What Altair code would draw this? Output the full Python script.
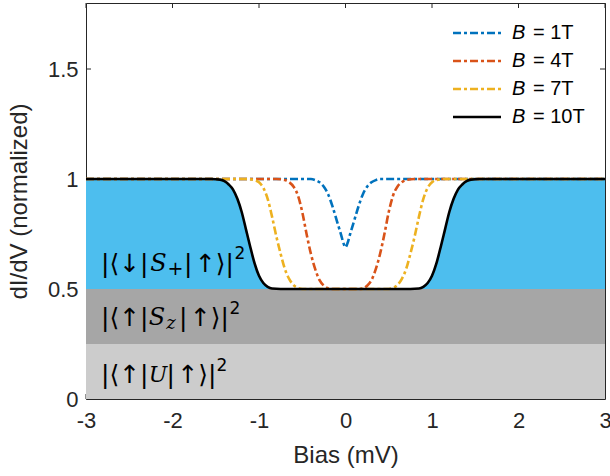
import altair as alt
import pandas as pd

# ---------------- data ----------------
series_names = ["B = 1T", "B = 4T", "B = 7T", "B = 10T"]
series_colors = ["#0072BD", "#D95319", "#EDB120", "#000000"]

bias_1T = [-3.0, -0.45, -0.4, -0.35, -0.3, -0.25, -0.2, -0.15, -0.1, -0.05, -0.025, 0.0,
           0.025, 0.05, 0.1, 0.15, 0.2, 0.25, 0.3, 0.35, 0.4, 0.45, 3.0]
didv_1T = [1.0, 1.0, 1.0, 0.995, 0.985, 0.965, 0.93, 0.875, 0.81, 0.745, 0.71, 0.69,
           0.71, 0.745, 0.81, 0.875, 0.93, 0.965, 0.985, 0.995, 1.0, 1.0, 1.0]

bias_4T = [-3.0, -0.8, -0.7, -0.65, -0.6, -0.55, -0.5, -0.45, -0.4, -0.35, -0.3, -0.25, -0.2, -0.15,
           0.15, 0.2, 0.25, 0.3, 0.35, 0.4, 0.45, 0.5, 0.55, 0.6, 0.65, 0.7, 0.8, 3.0]
didv_4T = [1.0, 1.0, 0.995, 0.985, 0.965, 0.925, 0.85, 0.75, 0.66, 0.59, 0.54, 0.515, 0.503, 0.5,
           0.5, 0.503, 0.515, 0.54, 0.59, 0.66, 0.75, 0.85, 0.925, 0.965, 0.985, 0.995, 1.0, 1.0]

bias_7T = [-3.0, -1.15, -1.05, -1.0, -0.95, -0.9, -0.85, -0.8, -0.75, -0.7, -0.65, -0.6, -0.55, -0.5,
           0.5, 0.55, 0.6, 0.65, 0.7, 0.75, 0.8, 0.85, 0.9, 0.95, 1.0, 1.05, 1.15, 3.0]
didv_7T = [1.0, 1.0, 0.995, 0.985, 0.96, 0.91, 0.83, 0.74, 0.66, 0.59, 0.545, 0.518, 0.505, 0.5,
           0.5, 0.505, 0.518, 0.545, 0.59, 0.66, 0.74, 0.83, 0.91, 0.96, 0.985, 0.995, 1.0, 1.0]

bias_10T = [-3.0, -1.55, -1.45, -1.4, -1.35, -1.3, -1.25, -1.2, -1.15, -1.1, -1.05, -1.0, -0.95, -0.9, -0.85, -0.75,
            0.75, 0.85, 0.9, 0.95, 1.0, 1.05, 1.1, 1.15, 1.2, 1.25, 1.3, 1.35, 1.4, 1.45, 1.55, 3.0]
didv_10T = [1.0, 1.0, 0.997, 0.99, 0.975, 0.952, 0.91, 0.85, 0.77, 0.69, 0.615, 0.56, 0.527, 0.51, 0.502, 0.5,
            0.5, 0.502, 0.51, 0.527, 0.56, 0.615, 0.69, 0.77, 0.85, 0.91, 0.952, 0.975, 0.99, 0.997, 1.0, 1.0]

band_low = [0.0, 0.25]
band_high = [0.25, 0.5]
band_colors = ["#CCCCCC", "#A6A6A6"]
fill_color = "#4DBEEE"

x_ticks = [-3, -2, -1, 0, 1, 2, 3]
y_ticks = [0, 0.5, 1, 1.5]

label_levels = [0.615, 0.368, 0.109]

# ---------------- layout / style ----------------
W, H = 519, 396
FONT = "Liberation Sans"
AX_COL = "#262626"

xs = alt.Scale(domain=[-3, 3], nice=False, zero=False)
ys = alt.Scale(domain=[0, 1.8], nice=False, zero=False)

X_AX = alt.Axis(values=x_ticks, title="Bias (mV)", labelExpr="'' + datum.value",
                ticks=False, domain=False, grid=False, labelFlush=False, labelOverlap=False,
                labelPadding=11, titlePadding=12, labelFontSize=22, titleFontSize=24,
                labelFont=FONT, titleFont=FONT, labelColor=AX_COL, titleColor=AX_COL,
                titleFontWeight="normal")
Y_AX = alt.Axis(values=y_ticks, title="dI/dV (normalized)", labelExpr="'' + datum.value",
                ticks=False, domain=False, grid=False, labelFlush=False, labelOverlap=False,
                labelPadding=8, titlePadding=16, labelFontSize=22, titleFontSize=24,
                labelFont=FONT, titleFont=FONT, labelColor=AX_COL, titleColor=AX_COL,
                titleFontWeight="normal")


def X(field):
    return alt.X(field, type="quantitative", scale=xs, axis=X_AX)


def Y(field):
    return alt.Y(field, type="quantitative", scale=ys, axis=Y_AX)


layers = []

# inward ticks (drawn under the fills, like MATLAB's bottom layer)
xt = pd.DataFrame({"t": x_ticks})
yt = pd.DataFrame({"t": y_ticks})
tick_style = dict(color=AX_COL, strokeWidth=1)
layers.append(alt.Chart(xt).mark_rule(**tick_style).encode(x=X("t"), y=alt.value(H), y2=alt.value(H - 5)))
layers.append(alt.Chart(xt).mark_rule(**tick_style).encode(x=X("t"), y=alt.value(0), y2=alt.value(5)))
layers.append(alt.Chart(yt).mark_rule(**tick_style).encode(y=Y("t"), x=alt.value(0), x2=alt.value(5)))
layers.append(alt.Chart(yt).mark_rule(**tick_style).encode(y=Y("t"), x=alt.value(W), x2=alt.value(W - 5)))

# grey bands
bands = pd.DataFrame({"lo": band_low, "hi": band_high, "c": band_colors,
                      "x0": [x_ticks[0]] * 2, "x1": [x_ticks[-1]] * 2})
layers.append(alt.Chart(bands).mark_rect().encode(
    x=X("x0"), x2="x1", y=Y("lo"), y2="hi",
    color=alt.Color("c:N", scale=None, legend=None)))

# blue filled area under the 10T curve
df10 = pd.DataFrame({"bias": bias_10T, "didv": didv_10T})
layers.append(alt.Chart(df10).mark_area(color=fill_color, interpolate="monotone", opacity=1).encode(
    x=X("bias"), y=Y("didv"), y2=alt.datum(0.5)))

# curves
curve_bias = [bias_1T, bias_4T, bias_7T, bias_10T]
curve_didv = [didv_1T, didv_4T, didv_7T, didv_10T]
dashes = [[8, 3, 3, 3], [8, 3, 3, 3], [8, 3, 3, 3], [1, 0]]
for b, d, c, dash in zip(curve_bias, curve_didv, series_colors, dashes):
    df = pd.DataFrame({"bias": b, "didv": d})
    kw = dict(color=c, strokeWidth=2.6, interpolate="monotone")
    if dash != [1, 0]:
        kw["strokeDash"] = dash
    layers.append(alt.Chart(df).mark_line(**kw).encode(x=X("bias"), y=Y("didv")))

# matrix-element labels: upright pieces, italic operator, sub- and superscripts
anchor = pd.DataFrame({"a": [0]})
HS = "\u200a"
styles = {
    "n": dict(font="DejaVu Sans", fontSize=25, align="left"),
    "i": dict(font="DejaVu Serif", fontSize=24, fontStyle="italic", align="center"),
    "ui": dict(font="DejaVu Serif", fontSize=22, fontStyle="italic", align="center"),
    "sub": dict(font="DejaVu Sans", fontSize=19, align="center"),
    "subi": dict(font="DejaVu Serif", fontSize=18, fontStyle="italic", align="center"),
    "sup": dict(font="DejaVu Sans", fontSize=17, align="center"),
}
pieces = [
    [("|⟨↓|", 101, 0, "n"), ("S", 158.5, 0, "i"), ("+", 175.5, 5, "sub"),
     ("|" + HS + "↑⟩|", 184, 0, "n"), ("2", 240, -9.5, "sup")],
    [("|⟨↑|", 101, 0, "n"), ("S", 157, 0, "i"), ("z", 171, 6, "subi"),
     ("|" + HS + "↑⟩|", 179, 0, "n"), ("2", 235, -9.5, "sup")],
    [("|⟨↑|", 101, 0, "n"), ("U", 158, 0, "ui"),
     ("|" + HS + "↑⟩|", 166.5, 0, "n"), ("2", 222, -9.5, "sup")],
]
for lvl, row in zip(label_levels, pieces):
    for txt, px, dy, st in row:
        layers.append(alt.Chart(anchor).mark_text(
            text=txt, baseline="middle", dx=px - 86, dy=dy,
            color="#000000", **styles[st]).encode(
            x=alt.datum(x_ticks[0], scale=xs, axis=X_AX, type="quantitative"),
            y=alt.datum(lvl, scale=ys, axis=Y_AX, type="quantitative")))

# manual legend (top right, no box)
for i, (name, c, dash) in enumerate(zip(series_names, series_colors, dashes)):
    ly = 30 + 28 * i
    rkw = dict(color=c, strokeWidth=2.6)
    if dash != [1, 0]:
        rkw["strokeDash"] = dash
    layers.append(alt.Chart(anchor).mark_rule(**rkw).encode(
        x=alt.value(367), x2=alt.value(415), y=alt.value(ly)))
    layers.append(alt.Chart(anchor).mark_text(
        text=name.split(" ")[0], align="left", baseline="middle", font=FONT, fontSize=20,
        fontStyle="italic", color="#000000").encode(x=alt.value(426), y=alt.value(ly)))
    layers.append(alt.Chart(anchor).mark_text(
        text=name.split(" ", 1)[1], align="left", baseline="middle", font=FONT, fontSize=20,
        color="#000000").encode(x=alt.value(447), y=alt.value(ly)))

chart = alt.layer(*layers).properties(
    width=W, height=H,
    padding={"left": 86, "top": 3, "right": 5, "bottom": 77},
    autosize=alt.AutoSizeParams(type="none"),
    background="white",
).configure_view(stroke=AX_COL, strokeWidth=1)

chart.save("out.html", embed_options={"renderer": "svg", "actions": False})
